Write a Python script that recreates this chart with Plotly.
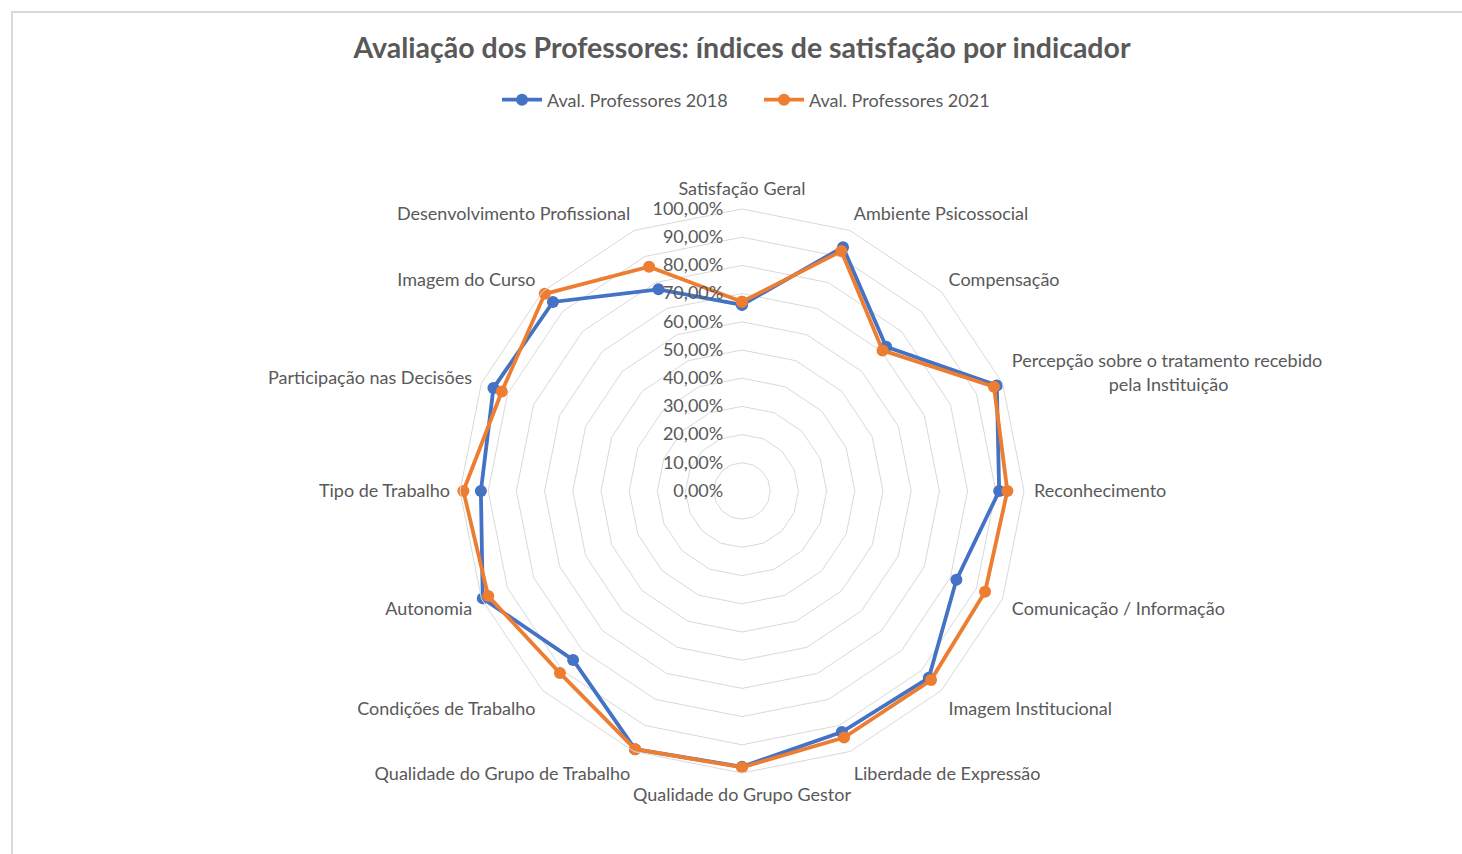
import plotly.graph_objects as go

categories = [
    "Satisfação Geral",
    "Ambiente Psicossocial",
    "Compensação",
    "Percepção sobre o tratamento recebido pela Instituição",
    "Reconhecimento",
    "Comunicação / Informação",
    "Imagem Institucional",
    "Liberdade de Expressão",
    "Qualidade do Grupo Gestor",
    "Qualidade do Grupo de Trabalho",
    "Condições de Trabalho",
    "Autonomia",
    "Tipo de Trabalho",
    "Participação nas Decisões",
    "Imagem do Curso",
    "Desenvolvimento Profissional",
]
NB = "\u00a0"
category_labels = [c if not c.startswith("Percepção") else
                   "Percepção sobre o tratamento recebido<br>" + NB * 21 + "pela Instituição"
                   for c in categories]

aval_2018 = [0.660, 0.936, 0.723, 0.978, 0.912, 0.823, 0.937, 0.925,
             0.978, 0.991, 0.847, 0.995, 0.926, 0.954, 0.948, 0.774]
aval_2021 = [0.671, 0.921, 0.705, 0.967, 0.941, 0.933, 0.948, 0.946,
             0.980, 0.991, 0.913, 0.974, 0.988, 0.922, 0.989, 0.861]

series_names = ["Aval. Professores 2018", "Aval. Professores 2021"]
colors = ["#4472C4", "#ED7D31"]

radial_ticks = [i / 10 for i in range(11)]

W, H = 1462, 854
cx, cy, R = 742, 491, 282

fig = go.Figure()
for name, vals, col in zip(series_names, [aval_2018, aval_2021], colors):
    fig.add_trace(go.Scatterpolar(
        r=vals + vals[:1],
        theta=categories + categories[:1],
        mode="lines+markers",
        name=name,
        line=dict(color=col, width=3.8),
        marker=dict(color=col, size=12),
    ))

fig.update_layout(
    width=W, height=H,
    margin=dict(l=0, r=0, t=0, b=0),
    paper_bgcolor="white",
    separators=",.",
    font=dict(family="Lato, sans-serif", color="#595959", size=18),
    title=dict(
        text="<b>Avaliação dos Professores: índices de satisfação por indicador</b>",
        x=cx / W, xanchor="center", y=1 - 48 / H, yanchor="middle",
        font=dict(size=28.5, color="#595959", family="Lato, sans-serif"),
    ),
    legend=dict(
        orientation="h", x=759 / W, xanchor="center", y=1 - 100 / H, yanchor="middle",
        font=dict(size=18, color="#595959"),
        itemwidth=40,
        entrywidth=207, entrywidthmode="pixels",
    ),
    polar=dict(
        domain=dict(x=[(cx - R) / W, (cx + R) / W], y=[1 - (cy + R) / H, 1 - (cy - R) / H]),
        bgcolor="white",
        gridshape="linear",
        angularaxis=dict(
            direction="clockwise", rotation=90,
            showgrid=False,
            showline=True, linecolor="#d9d9d9", linewidth=1,
            ticks="outside", ticklen=6, tickcolor="rgba(0,0,0,0)",
            tickmode="array", tickvals=categories, ticktext=category_labels,
            tickfont=dict(size=18, color="#595959"),
        ),
        radialaxis=dict(
            range=[0, 1],
            tickvals=radial_ticks,
            tickformat=".2%",
            angle=90, tickangle=90, side="counterclockwise",
            showline=False,
            ticks="outside", ticklen=12, tickcolor="rgba(0,0,0,0)",
            gridcolor="#d9d9d9", gridwidth=1,
            tickfont=dict(size=18, color="#595959"),
        ),
    ),
    shapes=[dict(
        type="rect", xref="paper", yref="paper",
        x0=12 / W, x1=1.02, y0=-0.02, y1=1 - 12 / H,
        line=dict(color="#d9d9d9", width=2), fillcolor="rgba(0,0,0,0)", layer="below",
    )],
)

fig.write_html("out.html", config={"displayModeBar": False},
               post_script="document.body.style.margin='0';document.body.style.overflow='hidden';")
